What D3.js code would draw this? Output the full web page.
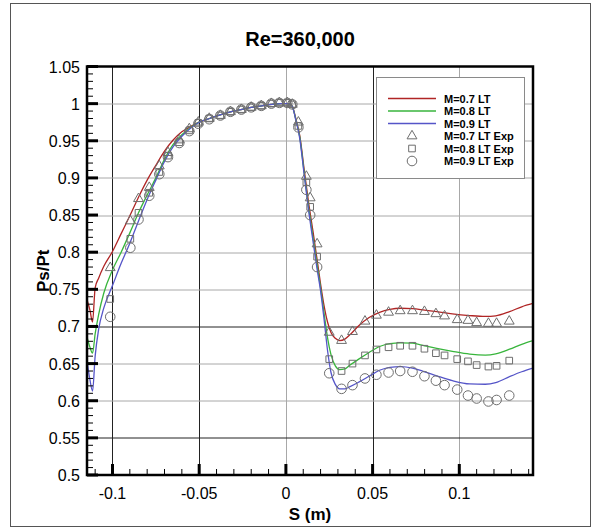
<!DOCTYPE html>
<html>
<head>
<meta charset="utf-8">
<script src="https://cdn.jsdelivr.net/npm/d3@7"></script>
<style>
  body { margin: 0; background: #fff; }
  text { font-family: Arial, "Liberation Sans", sans-serif; }
</style>
</head>
<body>
<div id="chart"></div>
<script>
// CFD surface positions (m) shared by the three lines
var lineS = [-0.1147, -0.1130, -0.1115, -0.1100, -0.1080, -0.1050, -0.1000, -0.0950, -0.0900, -0.0850,
  -0.0800, -0.0750, -0.0700, -0.0650, -0.0600, -0.0550, -0.0500, -0.0440, -0.0380, -0.0320,
  -0.0260, -0.0200, -0.0140, -0.0080, -0.0030, 0.0010, 0.0035, 0.0058, 0.0080, 0.0105,
  0.0130, 0.0155, 0.0180, 0.0200, 0.0220, 0.0240, 0.0260, 0.0285, 0.0310, 0.0340,
  0.0370, 0.0420, 0.0480, 0.0540, 0.0600, 0.0660, 0.0730, 0.0800, 0.0870, 0.0960,
  0.1060, 0.1150, 0.1210, 0.1290, 0.1360, 0.1425];

var lineM07 = [0.736, 0.722, 0.706, 0.752, 0.765, 0.781, 0.801, 0.825, 0.849, 0.874,
  0.897, 0.917, 0.936, 0.951, 0.962, 0.969, 0.975, 0.980, 0.985, 0.989,
  0.992, 0.995, 0.997, 0.999, 1.000, 1.000, 0.997, 0.979, 0.957, 0.912,
  0.868, 0.830, 0.790, 0.757, 0.728, 0.706, 0.692, 0.684, 0.681, 0.683,
  0.689, 0.701, 0.712, 0.719, 0.723, 0.7245, 0.724, 0.722, 0.720, 0.717,
  0.7147, 0.7135, 0.7143, 0.720, 0.7265, 0.731];

var lineM08 = [0.686, 0.672, 0.664, 0.690, 0.716, 0.745, 0.776, 0.800, 0.826, 0.853,
  0.877, 0.900, 0.925, 0.945, 0.958, 0.968, 0.975, 0.980, 0.985, 0.989,
  0.992, 0.995, 0.997, 0.999, 1.000, 1.000, 0.997, 0.978, 0.955, 0.908,
  0.862, 0.822, 0.783, 0.752, 0.718, 0.685, 0.662, 0.647, 0.642, 0.643,
  0.648, 0.656, 0.665, 0.673, 0.677, 0.678, 0.6775, 0.674, 0.6705, 0.6665,
  0.6627, 0.6613, 0.663, 0.6694, 0.676, 0.681];

var lineM09 = [0.655, 0.628, 0.613, 0.660, 0.696, 0.725, 0.755, 0.785, 0.812, 0.842,
  0.871, 0.897, 0.922, 0.942, 0.956, 0.967, 0.975, 0.980, 0.985, 0.989,
  0.992, 0.995, 0.997, 0.999, 1.000, 1.000, 0.997, 0.977, 0.953, 0.905,
  0.858, 0.817, 0.777, 0.748, 0.710, 0.668, 0.638, 0.622, 0.616, 0.616,
  0.619, 0.625, 0.633, 0.641, 0.645, 0.646, 0.644, 0.639, 0.6335, 0.627,
  0.6226, 0.6222, 0.6244, 0.6325, 0.639, 0.644];

// experiment tap positions (m)
var expS = [-0.1013, -0.0897, -0.0850, -0.0788, -0.0730, -0.0680, -0.0615, -0.0557, -0.0505, -0.0442,
  -0.0378, -0.0320, -0.0257, -0.0200, -0.0142, -0.0084, -0.0038, 0.0008, 0.0037, 0.0072,
  0.0118, 0.0140, 0.0180, 0.0250, 0.0321, 0.0384, 0.0456, 0.0522, 0.0592, 0.0659,
  0.0730, 0.0799, 0.0865, 0.0915, 0.0988, 0.1050, 0.1100, 0.1168, 0.1215, 0.1288];

var expM07 = [0.779, 0.842, 0.872, 0.887, 0.916, 0.934, 0.951, 0.966, 0.975, 0.980,
  0.984, 0.989, 0.992, 0.995, 0.997, 1.000, 1.001, 1.001, 0.999, 0.975,
  0.902, 0.873, 0.811, 0.692, 0.681, 0.693, 0.707, 0.715, 0.719, 0.721,
  0.721, 0.720, 0.717, 0.714, 0.709, 0.708, 0.705, 0.704, 0.704, 0.707];

var expM08 = [0.737, 0.818, 0.853, 0.880, 0.908, 0.930, 0.948, 0.964, 0.974, 0.980,
  0.984, 0.989, 0.992, 0.995, 0.997, 1.000, 1.001, 1.001, 0.999, 0.970,
  0.894, 0.861, 0.794, 0.656, 0.640, 0.650, 0.661, 0.669, 0.672, 0.674,
  0.674, 0.670, 0.664, 0.661, 0.656, 0.653, 0.648, 0.646, 0.647, 0.654];

var expM09 = [0.713, 0.806, 0.844, 0.876, 0.905, 0.928, 0.947, 0.963, 0.973, 0.979,
  0.984, 0.989, 0.992, 0.995, 0.997, 1.000, 1.001, 1.001, 0.999, 0.968,
  0.884, 0.850, 0.780, 0.637, 0.616, 0.621, 0.630, 0.635, 0.638, 0.640,
  0.639, 0.633, 0.627, 0.621, 0.615, 0.607, 0.603, 0.599, 0.601, 0.607];

var xTicks = [-0.1, -0.05, 0, 0.05, 0.1];
var yTicks = [0.5, 0.55, 0.6, 0.65, 0.7, 0.75, 0.8, 0.85, 0.9, 0.95, 1, 1.05];
var lineNames = ["M=0.7 LT", "M=0.8 LT", "M=0.9 LT"];
var expNames = ["M=0.7 LT Exp", "M=0.8 LT Exp", "M=0.9 LT Exp"];

var svgWidth = 594;
var svgHeight = 531;

var margin = { top: 66.5, right: 61, bottom: 56, left: 87 };
var width = svgWidth - margin.left - margin.right;
var height = svgHeight - margin.top - margin.bottom;

var svg = d3.select("#chart")
  .append("svg")
  .attr("width", svgWidth)
  .attr("height", svgHeight);

// outer frame
svg.append("rect")
  .attr("x", 10.5).attr("y", 3.5)
  .attr("width", 580).attr("height", 523)
  .attr("fill", "none")
  .attr("stroke", "#555")
  .attr("stroke-width", 1);

svg.append("text")
  .attr("x", 300).attr("y", 46)
  .attr("text-anchor", "middle")
  .attr("font-size", "20px")
  .attr("font-weight", "bold")
  .text("Re=360,000");

var chartGroup = svg.append("g")
  .attr("transform", `translate(${margin.left}, ${margin.top})`);

var xScale = d3.scaleLinear().domain([-0.1147, 0.1425]).range([0, width]);
var yScale = d3.scaleLinear().domain([0.5, 1.05]).range([height, 0]);

// grid lines, a few drawn darker like the original
var darkX = [-0.1, -0.05, 0.05];
var darkY = [0.7, 0.55];

chartGroup.selectAll(".gx")
  .data(xTicks)
  .enter()
  .append("line")
  .attr("x1", d => Math.round(xScale(d)) + 0.5)
  .attr("x2", d => Math.round(xScale(d)) + 0.5)
  .attr("y1", 0).attr("y2", height)
  .attr("stroke", d => darkX.indexOf(d) >= 0 ? "#222" : "#a8a8a8")
  .attr("stroke-width", 1);

chartGroup.selectAll(".gy")
  .data(yTicks.slice(1, -1))
  .enter()
  .append("line")
  .attr("y1", d => Math.round(yScale(d)) + 0.5)
  .attr("y2", d => Math.round(yScale(d)) + 0.5)
  .attr("x1", 0).attr("x2", width)
  .attr("stroke", d => darkY.indexOf(d) >= 0 ? "#222" : "#a8a8a8")
  .attr("stroke-width", 1);

// lines
chartGroup.append("clipPath").attr("id", "clip")
  .append("rect").attr("width", width).attr("height", height);

var line = d3.line()
  .x(d => xScale(d[0]))
  .y(d => yScale(d[1]))
  .curve(d3.curveMonotoneX);

var lineColors = ["#b02525", "#38b53c", "#5555c8"];
[lineM07, lineM08, lineM09].forEach(function(vals, i) {
  chartGroup.append("path")
    .datum(lineS.map((s, j) => [s, vals[j]]))
    .attr("clip-path", "url(#clip)")
    .attr("fill", "none")
    .attr("stroke", lineColors[i])
    .attr("stroke-width", 1.3)
    .attr("d", line);
});

// experiment markers
var markerColor = "#6e6e6e";
var triangle = d3.symbol().type(d3.symbolTriangle).size(42);
var square = d3.symbol().type(d3.symbolSquare).size(44);

chartGroup.selectAll(".tri")
  .data(expS.map((s, j) => [s, expM07[j]]))
  .enter()
  .append("path")
  .attr("d", triangle)
  .attr("transform", d => `translate(${xScale(d[0])}, ${yScale(d[1])})`)
  .attr("fill", "none").attr("stroke", markerColor).attr("stroke-width", 1);

chartGroup.selectAll(".sq")
  .data(expS.map((s, j) => [s, expM08[j]]))
  .enter()
  .append("path")
  .attr("d", square)
  .attr("transform", d => `translate(${xScale(d[0])}, ${yScale(d[1])})`)
  .attr("fill", "none").attr("stroke", markerColor).attr("stroke-width", 1);

chartGroup.selectAll(".circ")
  .data(expS.map((s, j) => [s, expM09[j]]))
  .enter()
  .append("circle")
  .attr("cx", d => xScale(d[0]))
  .attr("cy", d => yScale(d[1]))
  .attr("r", 4.8)
  .attr("fill", "none").attr("stroke", markerColor).attr("stroke-width", 1);

// ticks drawn by hand, inward: minor thin, major thick
var minorX = d3.range(-11, 15).map(i => i / 100);
var minorY = d3.range(50, 106).map(i => i / 100);

chartGroup.selectAll(".mx")
  .data(minorX)
  .enter()
  .append("line")
  .attr("x1", d => xScale(d)).attr("x2", d => xScale(d))
  .attr("y1", height).attr("y2", height - 6)
  .attr("stroke", "#000").attr("stroke-width", 1);

chartGroup.selectAll(".my")
  .data(minorY)
  .enter()
  .append("line")
  .attr("y1", d => yScale(d)).attr("y2", d => yScale(d))
  .attr("x1", 0).attr("x2", 6)
  .attr("stroke", "#000").attr("stroke-width", 1);

chartGroup.selectAll(".tx")
  .data(xTicks)
  .enter()
  .append("line")
  .attr("x1", d => xScale(d)).attr("x2", d => xScale(d))
  .attr("y1", height).attr("y2", height - 11)
  .attr("stroke", "#000").attr("stroke-width", 3);

chartGroup.selectAll(".ty")
  .data(yTicks)
  .enter()
  .append("line")
  .attr("y1", d => yScale(d)).attr("y2", d => yScale(d))
  .attr("x1", 0).attr("x2", 11)
  .attr("stroke", "#000").attr("stroke-width", 3);

// tick labels
chartGroup.selectAll(".lx")
  .data(xTicks)
  .enter()
  .append("text")
  .attr("x", d => xScale(d))
  .attr("y", height + 24)
  .attr("text-anchor", "middle")
  .attr("font-size", "16px")
  .text(d => String(d));

chartGroup.selectAll(".ly")
  .data(yTicks)
  .enter()
  .append("text")
  .attr("x", -7)
  .attr("y", d => yScale(d) + 6)
  .attr("text-anchor", "end")
  .attr("font-size", "16px")
  .text(d => String(d));

// heavy frame
chartGroup.append("rect")
  .attr("width", width).attr("height", height)
  .attr("fill", "none")
  .attr("stroke", "#000")
  .attr("stroke-width", 2.5);

// legend
var legend = chartGroup.append("g")
  .attr("transform", `translate(${376 - margin.left}, ${77 - margin.top})`);

legend.append("rect")
  .attr("x", 0.5).attr("y", 0.5)
  .attr("width", 148).attr("height", 101)
  .attr("fill", "#fff")
  .attr("stroke", "#8a8a8a");

var rowY = [21.5, 34, 46.5, 59, 71.5, 84];
lineNames.forEach(function(name, i) {
  legend.append("line")
    .attr("x1", 12).attr("x2", 60)
    .attr("y1", rowY[i]).attr("y2", rowY[i])
    .attr("stroke", lineColors[i]).attr("stroke-width", 1.3);
});
legend.append("path").attr("d", triangle)
  .attr("transform", `translate(36, ${rowY[3]})`)
  .attr("fill", "none").attr("stroke", markerColor);
legend.append("path").attr("d", square)
  .attr("transform", `translate(36, ${rowY[4]})`)
  .attr("fill", "none").attr("stroke", markerColor);
legend.append("circle")
  .attr("cx", 36).attr("cy", rowY[5]).attr("r", 4.8)
  .attr("fill", "none").attr("stroke", markerColor);

lineNames.concat(expNames).forEach(function(name, i) {
  legend.append("text")
    .attr("x", 68).attr("y", rowY[i] + 4)
    .attr("font-size", "11px")
    .attr("font-weight", "bold")
    .text(name);
});

// axis labels
chartGroup.append("text")
  .attr("transform", "rotate(-90)")
  .attr("x", 0 - (height / 2))
  .attr("y", -38)
  .attr("text-anchor", "middle")
  .attr("font-size", "17px")
  .attr("font-weight", "bold")
  .text("Ps/Pt");

chartGroup.append("text")
  .attr("x", width / 2)
  .attr("y", height + 45)
  .attr("text-anchor", "middle")
  .attr("font-size", "17px")
  .attr("font-weight", "bold")
  .text("S (m)");
</script>
</body>
</html>
